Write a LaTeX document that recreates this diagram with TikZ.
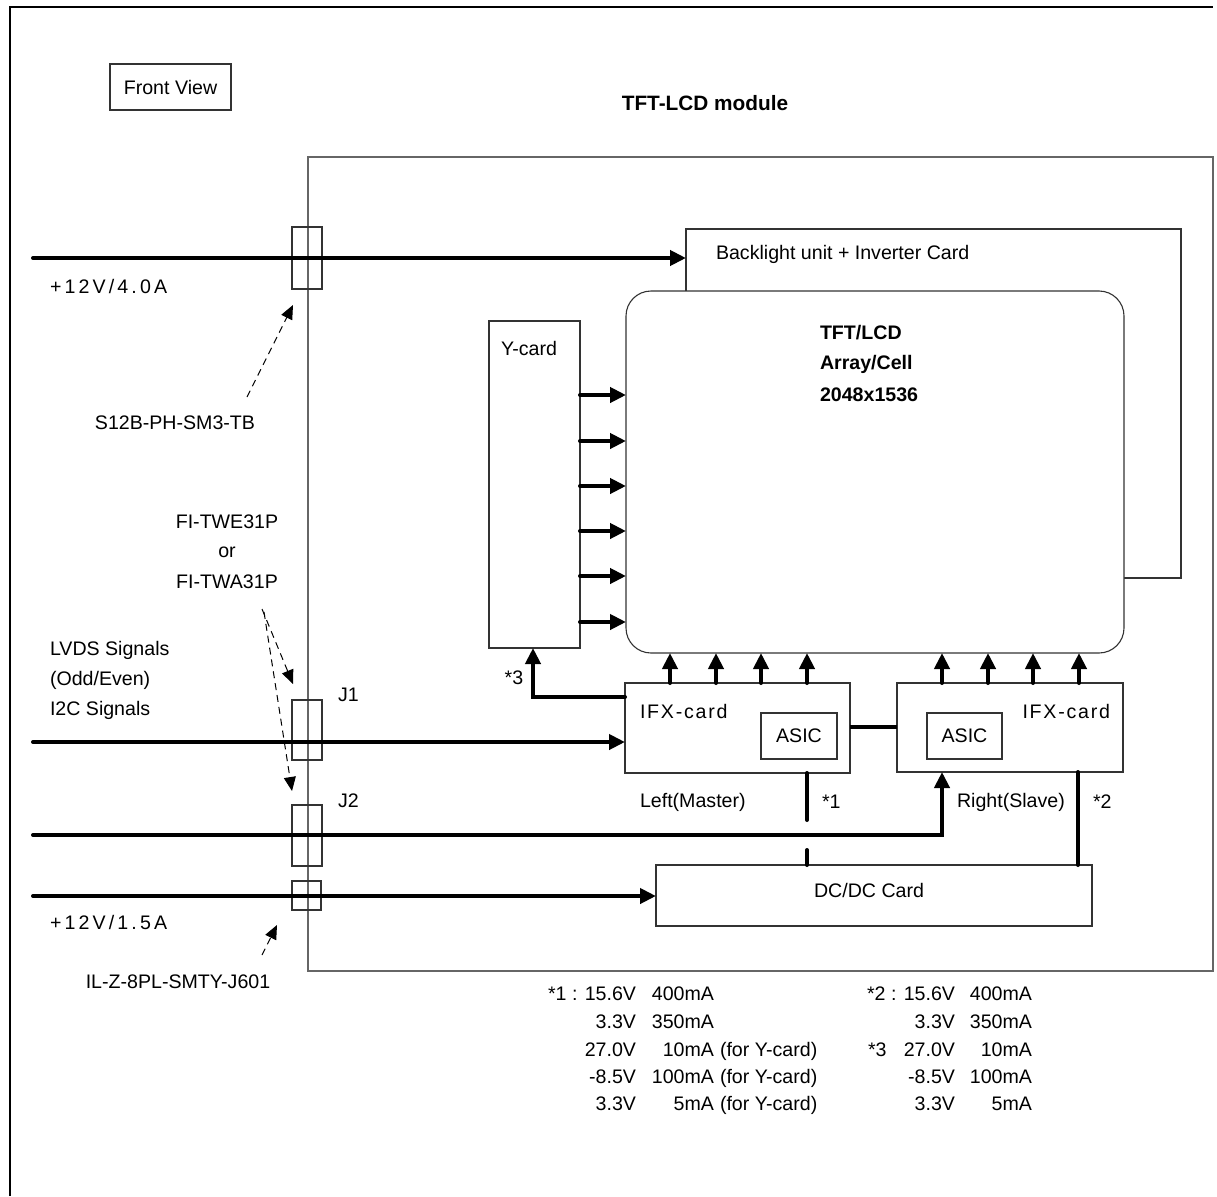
\documentclass[tikz,border=0pt]{standalone}
\usepackage{fontspec}
\setmainfont{Liberation Sans}
\newfontfamily\spacedA[LetterSpace=16]{Liberation Sans}
\newfontfamily\spacedB[LetterSpace=9]{Liberation Sans}
\usetikzlibrary{arrows.meta}
\begin{document}
\begin{tikzpicture}[x=1pt,y=-1pt,
  every node/.style={font=\fontsize{19.6}{23}\selectfont, inner sep=0pt, outer sep=0pt},
  bx/.style={draw=black!80, line width=1.1pt, anchor=north west},
  pipe/.style={line width=4pt, line cap=round, black},
  parr/.style={pipe, -{Triangle[length=16pt,width=15pt]}},
  darr/.style={line width=1pt, dash pattern=on 7pt off 5pt, -{Triangle[length=14pt,width=12pt]}},
  bold/.style={font=\fontsize{19.6}{23}\selectfont\bfseries},
  nl/.style={anchor=base east},
  nr/.style={anchor=base west}]
\useasboundingbox (0,0) rectangle (1217,1196);
% outer frame (cropped)
\draw[line width=2.5pt] (10,1196) -- (10,7) -- (1213,7);
% header
\node[bx, minimum width=121pt, minimum height=46pt] (fv) at (110,64) {Front View};
\node[font=\fontsize{20.8}{24}\selectfont\bfseries] (title) at (705,103) {TFT-LCD module};
% module
\node[bx, draw=black!60, line width=1.4pt, minimum width=905pt, minimum height=814pt] (mod) at (308,157) {};
% backlight
\node[bx, minimum width=495pt, minimum height=349pt] (bl) at (686,229) {};
\node[anchor=west] (blt) at (716,254) {Backlight unit + Inverter Card};
% TFT
\node[bx, fill=white, rounded corners=25pt, minimum width=498pt, minimum height=362pt] (tft) at (626,291) {};
\node[bold, anchor=west] (t1) at (820,333) {TFT/LCD};
\node[bold, anchor=west] (t2) at (820,364) {Array/Cell};
\node[bold, anchor=west] (t3) at (820,395) {2048x1536};
% Y-card
\node[bx, minimum width=91pt, minimum height=327pt] (yc) at (489,321) {};
\node[anchor=west] (yct) at (501,348) {Y-card};
% IFX cards
\node[bx, minimum width=225pt, minimum height=90pt] (ifl) at (625,683) {};
\node[anchor=west] (iflt) at (640,711) {\spacedB IFX-card};
\node[bx, minimum width=76pt, minimum height=46pt] (asl) at (761,713) {ASIC};
\node[bx, minimum width=226pt, minimum height=89pt] (ifr) at (897,683) {};
\node[anchor=east] (ifrt) at (1110,711) {\spacedB IFX-card};
\node[bx, minimum width=75pt, minimum height=46pt] (asr) at (927,713) {ASIC};
% DC/DC
\node[bx, minimum width=436pt, minimum height=61pt] (dc) at (656,865) {};
\node (dct) at (869,890) {DC/DC Card};
% connectors
\node[bx, minimum width=30pt, minimum height=62pt] (c1) at (292,227) {};
\node[bx, minimum width=30pt, minimum height=60pt] (cj1) at (292,700) {};
\node[bx, minimum width=30pt, minimum height=61pt] (cj2) at (292,805) {};
\node[bx, minimum width=29pt, minimum height=29pt] (c4) at (292,881) {};
% left labels
\node[anchor=west] (v1) at (50,286) {\spacedA +12V/4.0A};
\node (p1) at (175,423) {S12B-PH-SM3-TB};
\node (p2a) at (227,522) {FI-TWE31P};
\node (p2b) at (227,552) {or};
\node (p2c) at (227,582) {FI-TWA31P};
\node[anchor=west] (l1) at (50,650) {LVDS Signals};
\node[anchor=west] (l2) at (50,680) {(Odd/Even)};
\node[anchor=west] (l3) at (50,710) {I2C Signals};
\node[anchor=west] (j1) at (338,695) {J1};
\node[anchor=west] (j2) at (338,801) {J2};
\node[anchor=west] (v2) at (50,922) {\spacedA +12V/1.5A};
\node (p3) at (178,982) {IL-Z-8PL-SMTY-J601};
\node (s3l) at (514,678) {*3};
\node[anchor=west] (lm) at (640,802) {Left(Master)};
\node[anchor=west] (st1) at (822,802) {*1};
\node[anchor=west] (rs) at (957,802) {Right(Slave)};
\node[anchor=west] (st2) at (1093,802) {*2};
% power / signal lines
\coordinate (s1) at (33,258);
\coordinate (s2) at (33,742);
\coordinate (s3) at (33,835);
\coordinate (s4) at (33,896);
\coordinate (j2c) at (942,835);
\draw[parr] (s1) -- (bl.west |- s1);
\draw[parr] (s2) -- (ifl.west |- s2);
\draw[parr] (s3) -- (j2c) -- (j2c |- ifr.south);
\draw[parr] (s4) -- (dc.west |- s4);
% Y-card to TFT
\foreach \yy in {395,441,486,531,576,622}
  \draw[parr] (yc.east |- 0,\yy) -- (tft.west |- 0,\yy);
% IFX to TFT
\foreach \xx in {670,716,761,807}
  \draw[parr] (ifl.north -| \xx,0) -- (tft.south -| \xx,0);
\foreach \xx in {942,988,1033,1079}
  \draw[parr] (ifr.north -| \xx,0) -- (tft.south -| \xx,0);
% *3 feed
\coordinate (k3) at (533,697);
\draw[parr] (ifl.west |- k3) -- (k3) -- (yc.south -| k3);
% link between IFX cards
\draw[pipe, line cap=butt] (ifl.east |- 0,727) -- (ifr.west |- 0,727);
% *1 and *2 supplies
\coordinate (g1) at (807,820);
\coordinate (g2) at (807,850);
\draw[pipe] (ifl.south -| g1) -- (g1);
\draw[pipe] (g2) -- (dc.north -| g2);
\draw[pipe] (ifr.south -| 1078,0) -- (dc.north -| 1078,0);
% dashed pointers
\coordinate (d1a) at (247,397); \coordinate (d1b) at (293,305);
\coordinate (d2a) at (262,609); \coordinate (d2b) at (293,684);
\coordinate (d3a) at (264,612); \coordinate (d3b) at (292,791);
\coordinate (d4a) at (262,955); \coordinate (d4b) at (277,925);
\draw[darr] (d1a) -- (d1b);
\draw[darr] (d2a) -- (d2b);
\draw[darr] (d3a) -- (d3b);
\draw[darr] (d4a) -- (d4b);
% notes
\node[nl] (a1) at (636,1000) {*1 : 15.6V};
\node[nl] (a2) at (714,1000) {400mA};
\node[nl] (a3) at (636,1028) {3.3V};
\node[nl] (a4) at (714,1028) {350mA};
\node[nl] (a5) at (636,1056) {27.0V};
\node[nl] (a6) at (714,1056) {10mA};
\node[nr] (a7) at (720,1056) {(for Y-card)};
\node[nl] (a8) at (636,1083) {-8.5V};
\node[nl] (a9) at (714,1083) {100mA};
\node[nr] (a10) at (720,1083) {(for Y-card)};
\node[nl] (a11) at (636,1110) {3.3V};
\node[nl] (a12) at (714,1110) {5mA};
\node[nr] (a13) at (720,1110) {(for Y-card)};
\node[nl] (b1) at (955,1000) {*2 : 15.6V};
\node[nl] (b2) at (1032,1000) {400mA};
\node[nl] (b3) at (955,1028) {3.3V};
\node[nl] (b4) at (1032,1028) {350mA};
\node[nr] (b5) at (868,1056) {*3};
\node[nl] (b6) at (955,1056) {27.0V};
\node[nl] (b7) at (1032,1056) {10mA};
\node[nl] (b8) at (955,1083) {-8.5V};
\node[nl] (b9) at (1032,1083) {100mA};
\node[nl] (b10) at (955,1110) {3.3V};
\node[nl] (b11) at (1032,1110) {5mA};
\end{tikzpicture}
\end{document}
